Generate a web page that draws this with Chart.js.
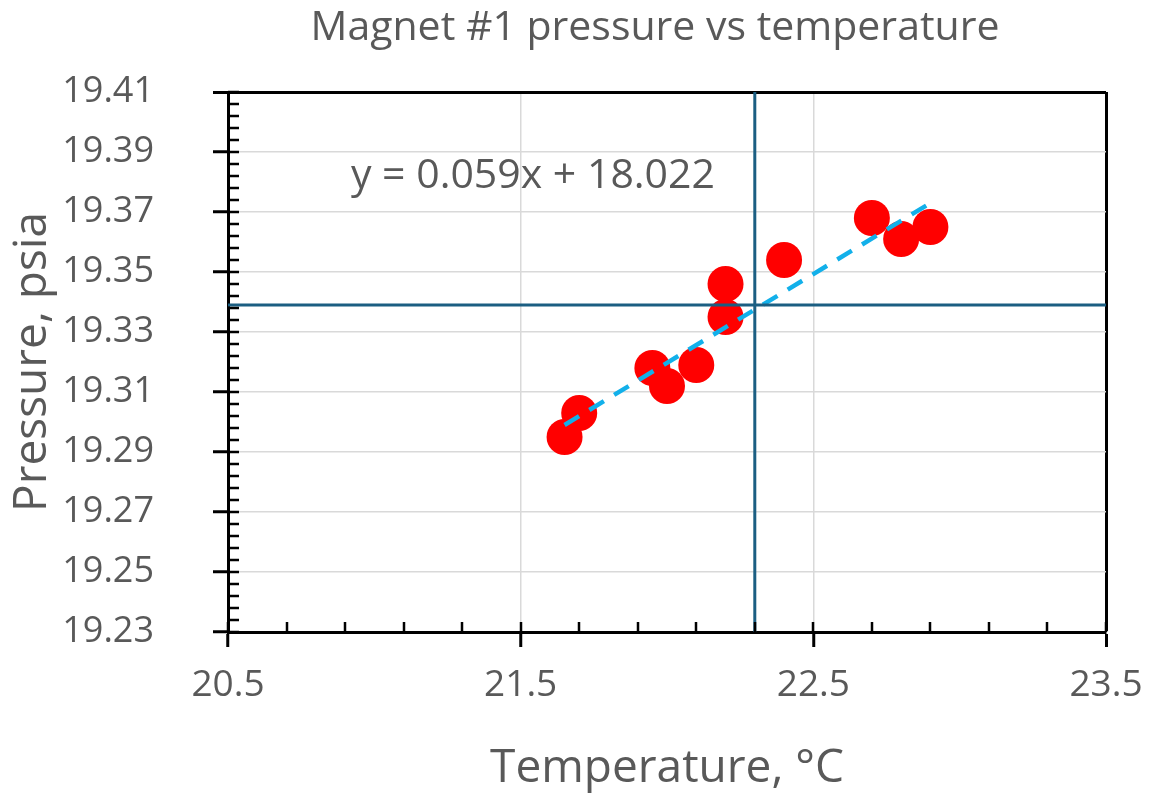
<!DOCTYPE html>
<html>
<head>
<meta charset="utf-8">
<script src="https://cdn.jsdelivr.net/npm/chart.js@4.4.1/dist/chart.umd.min.js"></script>
<style>
  html, body { margin: 0; padding: 0; background: #fff; }
  #wrap { width: 1150px; height: 796px; }
</style>
</head>
<body>
<div id="wrap"><canvas id="myChart" width="1150" height="796"></canvas></div>
<script>
// readings
var temperature = [21.65, 21.70, 21.95, 22.00, 22.10, 22.20, 22.20, 22.40, 22.70, 22.80, 22.90];
var pressure = [19.295, 19.303, 19.318, 19.312, 19.319, 19.335, 19.346, 19.354, 19.368, 19.361, 19.365];

// trendline y = 0.059x + 18.022, end points as drawn
var trendX = [21.65, 22.9];
var trendY = [19.299, 19.373];
var trendLabel = "y = 0.059x + 18.022";
var chartTitle = "Magnet #1 pressure vs temperature";

// mean lines
var meanX = 22.3;
var meanY = 19.339;

var xMin = 20.5, xMax = 23.5, xStep = 1, xMinor = 0.2;
var yMin = 19.23, yMax = 19.41, yStep = 0.02, yMinor = 0.004;

var grey = "#595959";
var font = "'Open Sans', sans-serif";

// small inside ticks, title and equation label
var extras = {
    id: "extras",
    afterDatasetsDraw: function (chart) {
        var c = chart.ctx, xs = chart.scales.x, ys = chart.scales.y;
        var a = chart.chartArea;
        c.save();
        c.strokeStyle = "#000";
        c.lineWidth = 2.5;
        c.beginPath();
        for (var i = 0; i <= Math.round((xMax - xMin) / xMinor); i++) {
            var px = Math.round(xs.getPixelForValue(xMin + i * xMinor));
            c.moveTo(px, a.bottom);
            c.lineTo(px, a.bottom - 10);
        }
        for (var j = 0; j <= Math.round((yMax - yMin) / yMinor); j++) {
            var py = Math.round(ys.getPixelForValue(yMin + j * yMinor));
            c.moveTo(a.left, py);
            c.lineTo(a.left + 11, py);
        }
        c.stroke();
        c.fillStyle = grey;
        c.font = "41px " + font;
        c.textAlign = "left";
        c.textBaseline = "middle";
        c.fillText(trendLabel, xs.getPixelForValue(20.92), ys.getPixelForValue(19.382));
        c.textAlign = "center";
        c.fillText(chartTitle, 655, 28);
        c.restore();
    }
};

var ctx = document.getElementById("myChart").getContext("2d");

var myChart = new Chart(ctx, {
    type: "scatter",
    data: {
        datasets: [
            {
                label: "mean T",
                type: "line",
                data: [{ x: meanX, y: yMin }, { x: meanX, y: yMax }],
                borderColor: "#1b5e82",
                borderWidth: 3,
                pointRadius: 0,
                showLine: true
            },
            {
                label: "mean P",
                type: "line",
                data: [{ x: xMin, y: meanY }, { x: xMax, y: meanY }],
                borderColor: "#1b5e82",
                borderWidth: 3,
                pointRadius: 0,
                showLine: true
            },
            {
                label: "trend",
                type: "line",
                data: trendX.map(function (x, i) { return { x: x, y: trendY[i] }; }),
                borderColor: "#12b0ea",
                borderWidth: 4.5,
                borderDash: [17, 12],
                pointRadius: 0,
                showLine: true
            },
            {
                label: "Magnet #1",
                data: temperature.map(function (t, i) { return { x: t, y: pressure[i] }; }),
                backgroundColor: "#ff0000",
                borderWidth: 0,
                pointRadius: 18,
                pointHoverRadius: 18
            }
        ]
    },
    options: {
        responsive: false,
        animation: false,
        layout: { padding: { left: 0, right: 44, top: 92, bottom: 0 } },
        plugins: {
            legend: { display: false },
            tooltip: { enabled: false },
            title: { display: false }
        },
        scales: {
            x: {
                type: "linear",
                min: xMin,
                max: xMax,
                afterFit: function (s) {
                    s.height = 164;
                    s.paddingLeft = 0;
                    s.paddingRight = 0;
                },
                afterBuildTicks: function (s) {
                    s.ticks = [];
                    for (var v = xMin; v <= xMax + 1e-9; v += xStep) s.ticks.push({ value: v });
                },
                ticks: {
                    color: grey,
                    font: { family: font, size: 37 },
                    padding: 16,
                    maxRotation: 0,
                    callback: function (v) { return v.toFixed(1); }
                },
                grid: {
                    color: function (c) {
                        if (c.tick && Math.abs(c.tick.value - xMax) < 1e-6) return "#000";
                        if (c.tick && Math.abs(c.tick.value - xMin) < 1e-6) return "rgba(0,0,0,0)";
                        return "#d9d9d9";
                    },
                    lineWidth: function (c) {
                        if (c.tick && Math.abs(c.tick.value - xMax) < 1e-6) return 3;
                        return 1.5;
                    },
                    tickColor: "#000",
                    tickLength: 15,
                    tickWidth: 3
                },
                border: { color: "#000", width: 3 },
                title: {
                    display: true,
                    text: "Temperature, \u00b0C",
                    color: grey,
                    font: { family: font, size: 46 },
                    padding: { top: 0, bottom: 0 }
                }
            },
            y: {
                type: "linear",
                min: yMin,
                max: yMax,
                afterFit: function (s) {
                    s.width = 228;
                    s.paddingTop = 0;
                    s.paddingBottom = 0;
                },
                afterBuildTicks: function (s) {
                    s.ticks = [];
                    for (var k = 0; k <= Math.round((yMax - yMin) / yStep); k++) {
                        s.ticks.push({ value: +(yMin + k * yStep).toFixed(2) });
                    }
                },
                ticks: {
                    color: grey,
                    font: { family: font, size: 36 },
                    padding: 59,
                    callback: function (v) { return v.toFixed(2); }
                },
                grid: {
                    color: function (c) {
                        if (c.tick && Math.abs(c.tick.value - yMax) < 1e-6) return "#000";
                        return "#d9d9d9";
                    },
                    lineWidth: function (c) {
                        if (c.tick && Math.abs(c.tick.value - yMax) < 1e-6) return 3;
                        return 1.5;
                    },
                    tickColor: "#000",
                    tickLength: 15,
                    tickWidth: 3
                },
                border: { color: "#000", width: 3 },
                title: {
                    display: true,
                    text: "Pressure, psia",
                    color: grey,
                    font: { family: font, size: 46 },
                    padding: { top: 5, bottom: 0 }
                }
            }
        }
    },
    plugins: [extras]
});
</script>
</body>
</html>
